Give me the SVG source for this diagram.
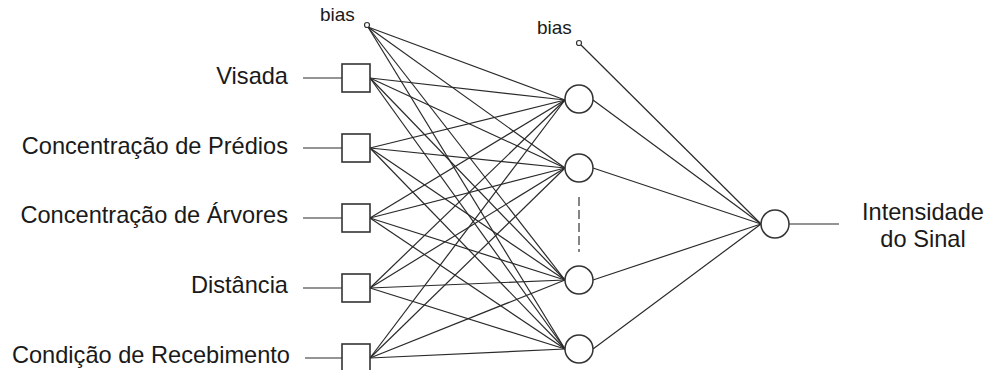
<svg xmlns="http://www.w3.org/2000/svg" width="987" height="370" viewBox="0 0 987 370">
<style>
  .lbl { font-family: "Liberation Sans", Arial, sans-serif; font-size: 23.6px; fill: #1a1a1a; }
  .bias { font-family: "Liberation Sans", Arial, sans-serif; font-size: 19px; fill: #1a1a1a; }
  .conn line { stroke: #2a2a2a; stroke-width: 1.2; }
  .box { fill: #fff; stroke: #333; stroke-width: 1.6; }
  .neuron { fill: #fff; stroke: #333; stroke-width: 1.5; }
  .bnode { fill: #fff; stroke: #333; stroke-width: 1.2; }
</style>
<rect width="987" height="370" fill="#fff"/>
<g id="connectors" class="conn">
  <line x1="303" y1="78" x2="342" y2="78"/>
  <line x1="303" y1="148" x2="342" y2="148"/>
  <line x1="303" y1="218" x2="342" y2="218"/>
  <line x1="303" y1="288" x2="342" y2="288"/>
  <line x1="305" y1="358" x2="342" y2="358"/>
  <line x1="368" y1="27" x2="565" y2="100"/>
  <line x1="368" y1="27" x2="565" y2="168"/>
  <line x1="368" y1="27" x2="565" y2="280"/>
  <line x1="368" y1="27" x2="565" y2="349"/>
  <line x1="370" y1="78" x2="565" y2="100"/>
  <line x1="370" y1="78" x2="565" y2="168"/>
  <line x1="370" y1="78" x2="565" y2="280"/>
  <line x1="370" y1="78" x2="565" y2="349"/>
  <line x1="370" y1="148" x2="565" y2="100"/>
  <line x1="370" y1="148" x2="565" y2="168"/>
  <line x1="370" y1="148" x2="565" y2="280"/>
  <line x1="370" y1="148" x2="565" y2="349"/>
  <line x1="370" y1="218" x2="565" y2="100"/>
  <line x1="370" y1="218" x2="565" y2="168"/>
  <line x1="370" y1="218" x2="565" y2="280"/>
  <line x1="370" y1="218" x2="565" y2="349"/>
  <line x1="370" y1="288" x2="565" y2="100"/>
  <line x1="370" y1="288" x2="565" y2="168"/>
  <line x1="370" y1="288" x2="565" y2="280"/>
  <line x1="370" y1="288" x2="565" y2="349"/>
  <line x1="370" y1="358" x2="565" y2="100"/>
  <line x1="370" y1="358" x2="565" y2="168"/>
  <line x1="370" y1="358" x2="565" y2="280"/>
  <line x1="370" y1="358" x2="565" y2="349"/>
  <line x1="593" y1="100" x2="761" y2="224"/>
  <line x1="593" y1="168" x2="761" y2="224"/>
  <line x1="593" y1="280" x2="761" y2="224"/>
  <line x1="593" y1="349" x2="761" y2="224"/>
  <line x1="581" y1="45" x2="761" y2="224"/>
  <line x1="789" y1="224" x2="839" y2="224"/>
  <line x1="579" y1="197" x2="579" y2="252" style="stroke:#666;stroke-width:1.6;stroke-dasharray:9 4"/>
</g>
<g id="in-visada"><text class="lbl" x="288" y="84" text-anchor="end">Visada</text><rect class="box" x="342" y="64" width="28" height="28"/></g>
<g id="in-predios"><text class="lbl" x="288" y="154" text-anchor="end">Concentração de Prédios</text><rect class="box" x="342" y="134" width="28" height="28"/></g>
<g id="in-arvores"><text class="lbl" x="288" y="223" text-anchor="end">Concentração de Árvores</text><rect class="box" x="342" y="204" width="28" height="28"/></g>
<g id="in-distancia"><text class="lbl" x="288" y="293" text-anchor="end">Distância</text><rect class="box" x="342" y="274" width="28" height="28"/></g>
<g id="in-recebimento"><text class="lbl" x="290" y="363" text-anchor="end">Condição de Recebimento</text><rect class="box" x="342" y="344" width="28" height="28"/></g>
<g id="bias1"><text class="bias" x="320" y="21">bias</text><circle class="bnode" cx="367" cy="25" r="2.5"/></g>
<g id="bias2"><text class="bias" x="537" y="34">bias</text><circle class="bnode" cx="579" cy="43" r="2.5"/></g>
<g id="h1"><circle class="neuron" cx="579" cy="99" r="14"/></g>
<g id="h2"><circle class="neuron" cx="579" cy="168" r="14"/></g>
<g id="h3"><circle class="neuron" cx="579" cy="280" r="14"/></g>
<g id="h4"><circle class="neuron" cx="579" cy="349" r="14"/></g>
<g id="out"><circle class="neuron" cx="775" cy="224" r="14"/>
  <text class="lbl" x="923" y="220" text-anchor="middle">Intensidade</text>
  <text class="lbl" x="923" y="247" text-anchor="middle">do Sinal</text>
</g>
</svg>
